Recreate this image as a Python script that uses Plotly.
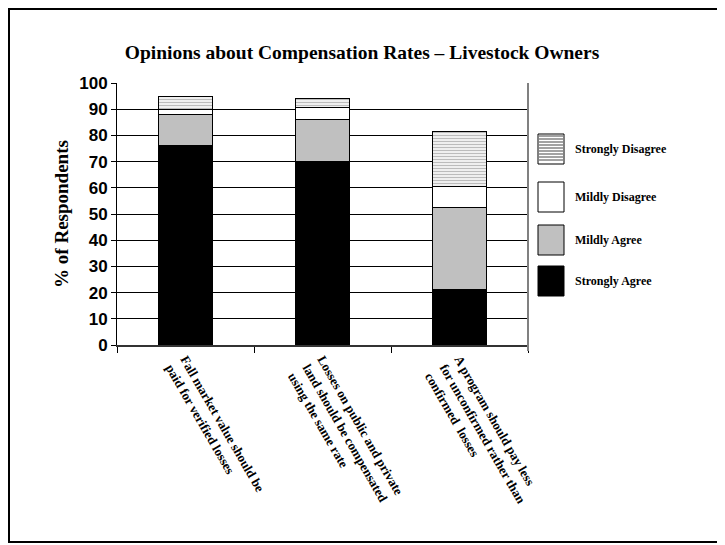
import plotly.graph_objects as go

# survey statements (x categories)
statements = [
    "Fall market value should be<br>paid for verified losses",
    "Losses on public and private<br>land should be compensated<br>using the same rate",
    "A program should pay less<br>for unconfirmed rather than<br>confirmed  losses",
]

# percent of respondents per answer
strongly_agree = [76, 70, 21]
mildly_agree = [12, 16, 31.5]
mildly_disagree = [2, 4.5, 8]
strongly_disagree = [4.8, 3.5, 21]

series_names = ["Strongly Agree", "Mildly Agree", "Mildly Disagree", "Strongly Disagree"]
y_ticks = list(range(0, 101, 10))

SERIF = "Liberation Serif, Times New Roman, serif"
SANS = "Liberation Sans, Arial, sans-serif"

# page body adds an 8px margin, so work in screen pixels minus that
OFF = 8
W, H = 725, 545
L, R, T, B = 117 - OFF, 528 - OFF, 83 - OFF, 345 - OFF


def px(x):
    return (x - OFF - L) / (R - L)


def py(y):
    return (B - (y - OFF)) / (B - T)


fig = go.Figure()

styles = {
    "Strongly Agree": dict(color="black"),
    "Mildly Agree": dict(color="#c0c0c0"),
    "Mildly Disagree": dict(color="white"),
    "Strongly Disagree": dict(color="white",
                              pattern=dict(shape="-", fgcolor="#7a7a7a", bgcolor="white",
                                           size=3, solidity=0.5, fillmode="overlay")),
}
values = [strongly_agree, mildly_agree, mildly_disagree, strongly_disagree]

for name, vals in zip(series_names, values):
    fig.add_trace(go.Bar(
        x=statements, y=vals, name=name, width=0.4,
        marker=dict(line=dict(color="black", width=1), **styles[name]),
        showlegend=False,
    ))

fig.update_layout(
    barmode="stack",
    width=W, height=H,
    margin=dict(l=L, r=W - R, t=T, b=H - B),
    paper_bgcolor="white", plot_bgcolor="white",
    title=dict(text="<b>Opinions about Compensation Rates – Livestock Owners</b>",
               x=(362 - OFF) / W, xanchor="center", y=1 - (52 - OFF) / H, yanchor="middle",
               font=dict(family=SERIF, size=19.5, color="black")),
)

fig.update_yaxes(
    range=[0, 100], tickvals=y_ticks,
    showgrid=True, gridcolor="black", gridwidth=1,
    showline=True, linecolor="black", linewidth=1,
    ticks="outside", ticklen=5, tickcolor="black",
    tickfont=dict(family=SANS, size=17, color="black", weight="bold"),
    title=dict(text="<b>% of Respondents</b>", standoff=5,
               font=dict(family=SERIF, size=19, color="black")),
    zeroline=False,
)

fig.update_xaxes(
    showline=True, linecolor="#333333", linewidth=1.5,
    ticks="outside", ticklen=6, tickcolor="black", tickson="boundaries",
    tickangle=60,
    tickfont=dict(family=SERIF, size=13, color="black", weight="bold"),
)

shapes = []
# outer frame (left/top kept inside the drawable area)
shapes.append(dict(type="rect", xref="paper", yref="paper",
                   x0=px(9), x1=px(745), y0=py(9), y1=py(542),
                   line=dict(color="black", width=2), fillcolor="rgba(0,0,0,0)", layer="below"))
# gray separator on the right of the plot
shapes.append(dict(type="line", xref="paper", yref="paper",
                   x0=1, x1=1, y0=1, y1=py(351),
                   line=dict(color="#808080", width=2)))

# legend drawn by hand (top to bottom)
legend_centers = {"Strongly Disagree": 149, "Mildly Disagree": 197,
                  "Mildly Agree": 240, "Strongly Agree": 281}
legend_fill = {"Strongly Disagree": "white", "Mildly Disagree": "white",
               "Mildly Agree": "#c0c0c0", "Strongly Agree": "black"}
annotations = []
for name in series_names[::-1]:
    cy = legend_centers[name]
    x0, x1 = 538, 564
    y0, y1 = cy - 15, cy + 15
    shapes.append(dict(type="rect", xref="paper", yref="paper",
                       x0=px(x0), x1=px(x1), y0=py(y1), y1=py(y0),
                       line=dict(color="black", width=1), fillcolor=legend_fill[name]))
    if name == "Strongly Disagree":
        yy = y0 + 2
        while yy < y1 - 1:
            shapes.append(dict(type="line", xref="paper", yref="paper",
                               x0=px(x0 + 1), x1=px(x1 - 1), y0=py(yy), y1=py(yy),
                               line=dict(color="#7a7a7a", width=1.4)))
            yy += 3
    annotations.append(dict(text=f"<b>{name}</b>", xref="paper", yref="paper",
                            x=px(573), y=py(cy), xanchor="left", yanchor="middle",
                            showarrow=False,
                            font=dict(family=SERIF, size=12, color="black")))

fig.update_layout(shapes=shapes, annotations=annotations)

fig.write_html("out.html")
